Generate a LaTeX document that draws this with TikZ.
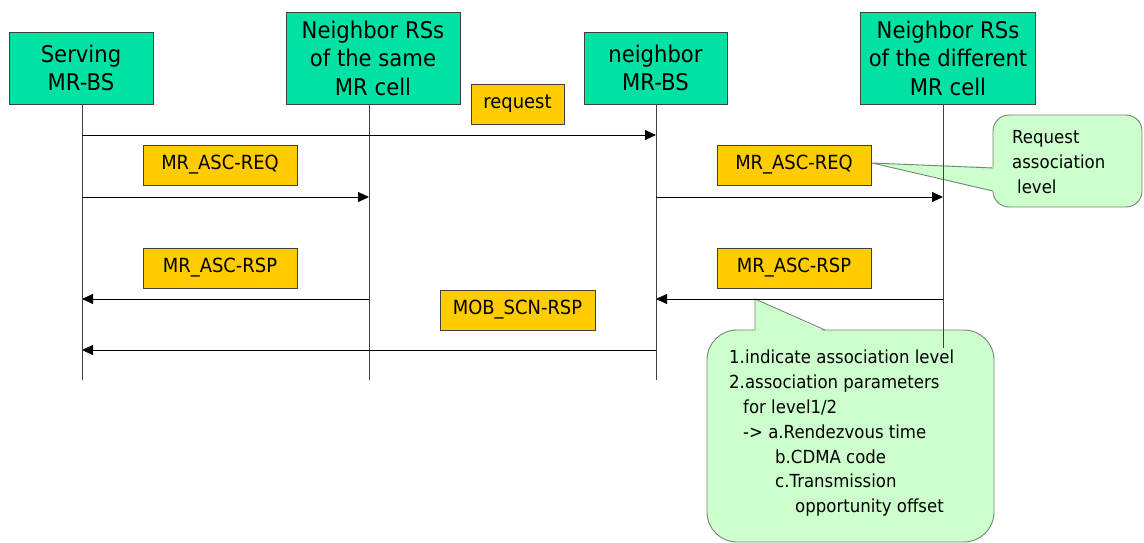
\documentclass[tikz,border=0pt]{standalone}
\usepackage{fontspec}
\setmainfont{DejaVu Sans}[FakeStretch=0.92]
\usetikzlibrary{arrows.meta}
\definecolor{hdrgreen}{RGB}{0,226,164}
\definecolor{lblyellow}{RGB}{255,204,0}
\definecolor{bubgreen}{RGB}{204,255,204}
\definecolor{bubedge}{RGB}{120,130,120}
\definecolor{edgegray}{RGB}{64,64,64}
\tikzset{
  hdr/.style={draw=edgegray, line width=0.9pt, fill=hdrgreen, inner sep=0pt, align=center,
    font=\fontsize{23}{28.5}\selectfont},
  lbl/.style={draw=edgegray, line width=0.9pt, fill=lblyellow, inner sep=0pt,
    minimum height=40pt, font=\fontsize{19.5}{23}\selectfont},
  life/.style={draw=edgegray, line width=0.9pt},
  msg/.style={draw=black, line width=0.9pt, -{Triangle[length=11pt,width=10pt]}},
  bub/.style={fill=bubgreen, draw=bubedge, line width=0.9pt},
  btxt/.style={anchor=base west, inner sep=0pt, font=\fontsize{18}{22}\selectfont},
}
\begin{document}
\begin{tikzpicture}[x=1pt,y=-1pt]
\useasboundingbox (0,0) rectangle (1144,543);
% headers
\node[hdr, minimum width=144pt, minimum height=72pt] (srv) at (81,68) {Serving\\MR-BS};
\node[hdr, minimum width=174pt, minimum height=92pt] (same) at (373,58) {Neighbor RSs\\of the same\\MR cell};
\node[hdr, minimum width=143pt, minimum height=72pt] (nbs) at (655.5,68) {neighbor\\MR-BS};
\node[hdr, minimum width=175pt, minimum height=92pt] (diff) at (948,58) {Neighbor RSs\\of the different\\ MR cell};
% lifeline ends
\coordinate (l1t) at (82,104);  \coordinate (l1b) at (82,380);
\coordinate (l2t) at (369,104); \coordinate (l2b) at (369,380);
\coordinate (l3t) at (656,104); \coordinate (l3b) at (656,380);
\coordinate (l4t) at (943,104); \coordinate (l4b) at (943,348);
% message rows
\coordinate (r1) at (0,135);
\coordinate (r2) at (0,197);
\coordinate (r3) at (0,299);
\coordinate (r4) at (0,350);
% callout 1
\draw[bub, rounded corners=16pt] (993,115) rectangle (1142,207);
\path[fill=bubgreen] (872,163) -- (995,167) -- (995,192) -- cycle;
\draw[draw=bubedge, line width=0.9pt] (993,168) -- (872,163) -- (993,191);
% callout 2
\draw[bub, rounded corners=30pt] (707,330) rectangle (994,542);
\path[fill=bubgreen] (755,299) -- (755,332) -- (825,332) -- cycle;
\draw[draw=bubedge, line width=0.9pt] (755,330) -- (755,299) -- (825,330);
% lifelines
\draw[life] (l1t) -- (l1b);
\draw[life] (l2t) -- (l2b);
\draw[life] (l3t) -- (l3b);
\draw[life] (l4t) -- (l4b);
% messages
\draw[msg] (l1t |- r1) -- (l3t |- r1);
\draw[msg] (l1t |- r2) -- (l2t |- r2);
\draw[msg] (l3t |- r2) -- (l4t |- r2);
\draw[msg] (l2t |- r3) -- (l1t |- r3);
\draw[msg] (l4t |- r3) -- (l3t |- r3);
\draw[msg] (l3t |- r4) -- (l1t |- r4);
% labels
\node[lbl, minimum width=93pt] (lreq) at (517.5,104) {request};
\node[lbl, minimum width=154pt] (lq1) at (220,165) {MR\_ASC-REQ};
\node[lbl, minimum width=154pt] (lq2) at (794,165) {MR\_ASC-REQ};
\node[lbl, minimum width=154pt] (lp1) at (220,268) {MR\_ASC-RSP};
\node[lbl, minimum width=154pt] (lp2) at (794,268) {MR\_ASC-RSP};
\node[lbl, minimum width=155pt] (lmob) at (517.5,310) {MOB\_SCN-RSP};
% callout texts
\node[btxt] (c1a) at (1012,143) {Request};
\node[btxt] (c1b) at (1012,168) {association};
\node[btxt] (c1c) at (1017,193) {level};
\node[btxt] (c2a) at (729,363) {1.indicate association level};
\node[btxt] (c2b) at (729,388) {2.association parameters};
\node[btxt] (c2c) at (743,413) {for level1/2};
\node[btxt] (c2d) at (743,438) {-> a.Rendezvous time};
\node[btxt] (c2e) at (775,463) {b.CDMA code};
\node[btxt] (c2f) at (775,487) {c.Transmission};
\node[btxt] (c2g) at (795,512) {opportunity offset};
\end{tikzpicture}
\end{document}
